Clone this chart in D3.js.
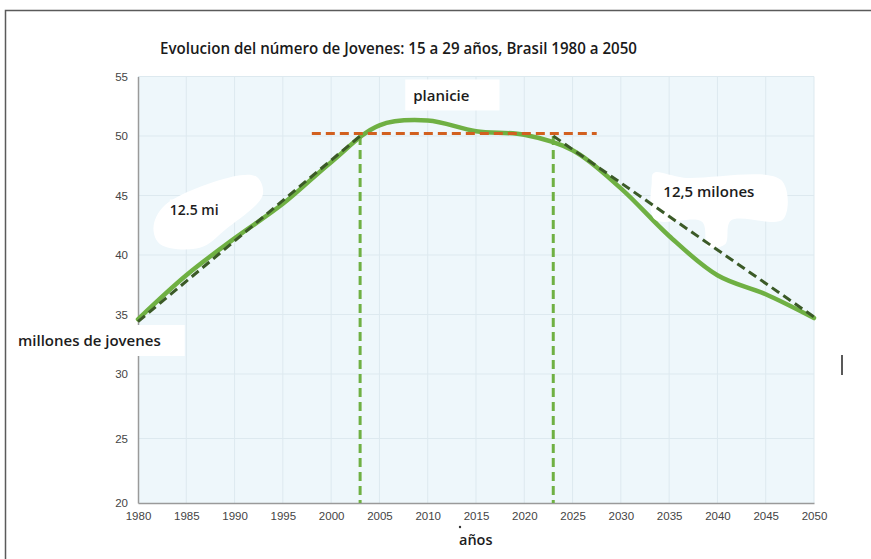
<!DOCTYPE html>
<html>
<head>
<meta charset="utf-8">
<script src="https://cdn.jsdelivr.net/npm/d3@7/dist/d3.min.js"></script>
<style>
  body { margin: 0; padding: 0; background: #fff; }
</style>
</head>
<body>
<div id="main"></div>
<script>
// datos
const TITULO = 'Evolucion del número de Jovenes: 15 a 29 años, Brasil 1980 a 2050';
const ANIOS = [1980, 1985, 1990, 1995, 2000, 2005, 2010, 2015, 2020, 2025, 2030, 2035, 2040, 2045, 2050];
const JOVENES = [34.6, 38.3, 41.4, 44.3, 47.8, 50.9, 51.3, 50.4, 50.1, 48.8, 45.6, 41.6, 38.3, 36.7, 34.7];
const Y_TICKS = [20, 25, 30, 35, 40, 45, 50, 55];
const TENDENCIA_SUBE = [[1980, 34.4], [2003, 50.0]];
const TENDENCIA_BAJA = [[2023, 50.0], [2050, 34.8]];
const PLANICIE = [[1998, 50.2], [2027.5, 50.2]];
const CORTES = [2003, 2023];

const WIDTH = 871;
const HEIGHT = 559;
const FONT = "'Open Sans', 'Noto Sans', sans-serif";
const AXIS_FONT = "'Liberation Sans', Arial, sans-serif";

const svg = d3.select('#main').append('svg')
    .attr('width', WIDTH)
    .attr('height', HEIGHT)
    .attr('style', 'display: block');

// the lower part of the original picture is a little stretched, hence 3 stops
const scaleX = d3.scaleLinear().domain([1980, 2050]).range([138, 814]);
const scaleY = d3.scaleLinear().domain([20, 30, 55]).range([503, 374, 76.5]);

// marco
svg.append('path')
    .attr('d', `M5.5,${HEIGHT} V10.5 H${WIDTH}`)
    .attr('fill', 'none')
    .attr('stroke', '#5a5a5a')
    .attr('stroke-width', 1.5);

// fondo del area
svg.append('rect')
    .attr('x', scaleX(1980))
    .attr('y', scaleY(55))
    .attr('width', scaleX(2050) - scaleX(1980))
    .attr('height', scaleY(20) - scaleY(55))
    .attr('fill', '#eef7fb');

const grid = svg.append('g').attr('stroke', '#dde9ef').attr('stroke-width', 1);
grid.selectAll('line.v').data(ANIOS.slice(1)).enter().append('line')
    .attr('x1', d => scaleX(d)).attr('x2', d => scaleX(d))
    .attr('y1', scaleY(55)).attr('y2', scaleY(20));
grid.selectAll('line.h').data(Y_TICKS.slice(1)).enter().append('line')
    .attr('x1', scaleX(1980)).attr('x2', scaleX(2050))
    .attr('y1', d => scaleY(d)).attr('y2', d => scaleY(d));

// ejes
const axisX = d3.axisBottom(scaleX).tickValues(ANIOS).tickFormat(d3.format('d')).tickSize(0).tickPadding(9);
const axisY = d3.axisLeft(scaleY).tickValues(Y_TICKS).tickSize(0).tickPadding(10);
const gx = svg.append('g').attr('transform', `translate(0, ${scaleY(20)})`).call(axisX);
const gy = svg.append('g').attr('transform', `translate(${scaleX(1980)}, 0)`).call(axisY);
[gx, gy].forEach(g => {
    g.select('.domain').attr('stroke', '#9a9a9a').attr('stroke-width', 1.5);
    g.selectAll('text').attr('fill', '#444').attr('font-size', 11.5).attr('font-family', AXIS_FONT);
});

// lineas verticales
svg.selectAll('line.corte').data(CORTES).enter().append('line')
    .attr('x1', d => scaleX(d)).attr('x2', d => scaleX(d))
    .attr('y1', scaleY(50)).attr('y2', scaleY(20))
    .attr('stroke', '#6fb043').attr('stroke-width', 3).attr('stroke-dasharray', '9,5');

// curva
const linea = d3.line().x(d => scaleX(d[0])).y(d => scaleY(d[1]));
const serie = ANIOS.map((a, i) => [a, JOVENES[i]]);
svg.append('path')
    .attr('d', linea.curve(d3.curveCatmullRom.alpha(0.5))(serie))
    .attr('fill', 'none')
    .attr('stroke', '#6fb043')
    .attr('stroke-width', 4.5)
    .attr('stroke-linecap', 'round');

// texto con fondo blanco
const etiqueta = (texto, x, y, size, pad) => {
    const g = svg.append('g');
    const t = g.append('text')
        .text(texto)
        .attr('x', x).attr('y', y)
        .attr('font-family', FONT)
        .attr('font-weight', 600)
        .attr('font-size', size)
        .attr('fill', '#1c1c1c');
    const bb = t.node().getBBox();
    g.insert('rect', 'text')
        .attr('x', bb.x - pad[0]).attr('y', bb.y - pad[1])
        .attr('width', bb.width + pad[0] + pad[2]).attr('height', bb.height + pad[1] + pad[3])
        .attr('fill', '#fff');
    return g;
};

// manchas blancas de las notas
const mancha = d3.line().curve(d3.curveCatmullRomClosed).x(d => scaleX(d[0])).y(d => scaleY(d[1]));
svg.append('path')
    .attr('d', mancha([[1981.6, 42.3], [1982.8, 44.2], [1990.6, 46.7], [1992.4, 46.5], [1992.9, 45.0], [1989.0, 42.1], [1986.4, 40.6], [1982.3, 40.9]]))
    .attr('fill', '#fff');
svg.append('path')
    .attr('d', mancha([[2033.2, 46.1], [2033.4, 46.9], [2036.5, 46.5], [2046.6, 46.3], [2046.8, 43.0], [2041.4, 42.9], [2040.8, 40.9], [2039, 40.7], [2038.4, 42.8], [2033.5, 43.0]]))
    .attr('fill', '#fff');

etiqueta('12.5 mi', scaleX(1983.3), scaleY(43.4), 14, [0, 0, 0, 0]);
etiqueta('12,5 milones', scaleX(2034.4), scaleY(44.9), 15, [0, 0, 0, 0]);

// tendencias
const tendencia = (datos, color) => svg.append('path')
    .attr('d', linea.curve(d3.curveLinear)(datos))
    .attr('fill', 'none')
    .attr('stroke', color)
    .attr('stroke-width', 3)
    .attr('stroke-dasharray', '9,5');
tendencia(TENDENCIA_SUBE, '#3b5a27');
tendencia(TENDENCIA_BAJA, '#3b5a27');
tendencia(PLANICIE, '#d2601f');

etiqueta('planicie', scaleX(2008.5), scaleY(52.9), 15, [8, 6, 30, 5]);

// titulos
svg.append('text')
    .text(TITULO)
    .attr('x', 160).attr('y', 54)
    .attr('font-family', FONT)
    .attr('font-weight', 600)
    .attr('font-size', 15.5)
    .attr('textLength', 477)
    .attr('lengthAdjust', 'spacingAndGlyphs')
    .attr('fill', '#1a1a1a');
etiqueta('millones de jovenes', 18, 346, 15, [5, 5, 24, 6]);
etiqueta('años', 459, 545, 14.5, [0, 0, 0, 0]);
svg.append('circle').attr('cx', 460).attr('cy', 527).attr('r', 1.2).attr('fill', '#333');
svg.append('line')
    .attr('x1', 842).attr('x2', 842).attr('y1', 355).attr('y2', 375)
    .attr('stroke', '#222').attr('stroke-width', 1.5);
</script>
</body>
</html>
